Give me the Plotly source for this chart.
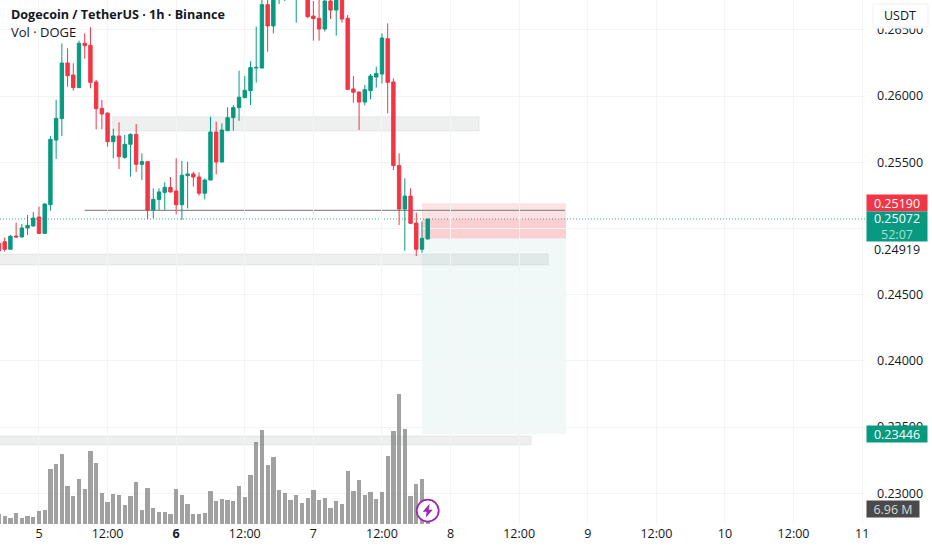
from plotly import graph_objects as go

hours = list(range(-7, 69))

opens = [
    0.24888, 0.24900, 0.24843, 0.24943, 0.24936, 0.25004, 0.25019, 0.25087, 0.24963, 0.25180,
    0.25668, 0.25830, 0.26250, 0.26159, 0.26064, 0.26399, 0.26384, 0.26107, 0.25908, 0.25872,
    0.25656, 0.25699, 0.25537, 0.25636, 0.25711, 0.25485, 0.25505, 0.25140, 0.25220, 0.25273,
    0.25311, 0.25283, 0.25180, 0.25399, 0.25412, 0.25389, 0.25266, 0.25366, 0.25729, 0.25502,
    0.25739, 0.25837, 0.25913, 0.25988, 0.26041, 0.26212, 0.26212, 0.26691, 0.26530, 0.26802,
    0.26764, 0.26852, 0.26739, 0.26827, 0.26802, 0.26605, 0.26588, 0.26507, 0.26718, 0.26650,
    0.26764, 0.26588, 0.26054, 0.26031, 0.25955, 0.26041, 0.26144, 0.26167, 0.26434, 0.26107,
    0.25475, 0.25147, 0.25245, 0.25041, 0.24843, 0.24921,
]
highs = [
    0.24926, 0.24933, 0.24951, 0.25044, 0.25034, 0.25102, 0.25125, 0.25165, 0.25190, 0.25699,
    0.25971, 0.26399, 0.26361, 0.26248, 0.26419, 0.26474, 0.26520, 0.26122, 0.25971, 0.25875,
    0.25754, 0.25802, 0.25706, 0.25719, 0.25789, 0.25568, 0.25507, 0.25303, 0.25303, 0.25349,
    0.25389, 0.25530, 0.25510, 0.25505, 0.25429, 0.25424, 0.25379, 0.25845, 0.25807, 0.25794,
    0.25915, 0.25933, 0.26192, 0.26152, 0.26263, 0.26525, 0.26739, 0.26751, 0.26902, 0.26953,
    0.26927, 0.26902, 0.26877, 0.26877, 0.26852, 0.26718, 0.26776, 0.26751, 0.26751, 0.26802,
    0.26802, 0.26613, 0.26152, 0.26034, 0.26084, 0.26167, 0.26222, 0.26474, 0.26550, 0.26134,
    0.25568, 0.25379, 0.25303, 0.25120, 0.25052, 0.25072,
]
lows = [
    0.24812, 0.24825, 0.24843, 0.24933, 0.24933, 0.24951, 0.25014, 0.24958, 0.24961, 0.25135,
    0.25525, 0.25699, 0.26071, 0.26041, 0.26061, 0.26283, 0.26059, 0.25749, 0.25749, 0.25618,
    0.25530, 0.25449, 0.25527, 0.25391, 0.25427, 0.25366, 0.25072, 0.25077, 0.25140, 0.25140,
    0.25271, 0.25107, 0.25064, 0.25152, 0.25316, 0.25248, 0.25220, 0.25364, 0.25409, 0.25502,
    0.25739, 0.25739, 0.25814, 0.25988, 0.25933, 0.26102, 0.26210, 0.26336, 0.26474, 0.26696,
    0.26718, 0.26751, 0.26555, 0.26746, 0.26588, 0.26419, 0.26419, 0.26487, 0.26582, 0.26457,
    0.26555, 0.26046, 0.25950, 0.25744, 0.25930, 0.25976, 0.26064, 0.26096, 0.25870, 0.25442,
    0.25026, 0.24832, 0.25034, 0.24792, 0.24817, 0.24918,
]
closes = [
    0.24832, 0.24843, 0.24941, 0.24936, 0.25004, 0.25024, 0.25079, 0.24963, 0.25185, 0.25673,
    0.25832, 0.26250, 0.26154, 0.26064, 0.26399, 0.26381, 0.26104, 0.25905, 0.25865, 0.25656,
    0.25699, 0.25543, 0.25636, 0.25711, 0.25485, 0.25505, 0.25140, 0.25220, 0.25276, 0.25311,
    0.25276, 0.25180, 0.25402, 0.25412, 0.25389, 0.25266, 0.25366, 0.25729, 0.25502, 0.25744,
    0.25837, 0.25913, 0.25991, 0.26044, 0.26215, 0.26217, 0.26691, 0.26530, 0.26827, 0.26877,
    0.26852, 0.26776, 0.26827, 0.26764, 0.26600, 0.26585, 0.26507, 0.26718, 0.26650, 0.26764,
    0.26582, 0.26051, 0.26029, 0.25955, 0.26049, 0.26152, 0.26170, 0.26439, 0.26104, 0.25475,
    0.25147, 0.25245, 0.25039, 0.24843, 0.24926, 0.25072,
]
volumes = [
    9.2, 7.3, 5.5, 9.8, 5.5, 7.6, 6.4, 11.9, 13.1, 50.6,
    54.6, 64.4, 35.1, 25.6, 40.9, 32.0, 67.1, 55.5, 28.4, 20.1,
    27.8, 26.8, 17.4, 25.6, 38.7, 12.5, 33.2, 14.6, 11.3, 11.3,
    8.8, 32.0, 26.2, 18.6, 9.5, 9.5, 10.4, 30.5, 20.7, 22.9,
    22.3, 20.7, 35.1, 25.0, 45.1, 75.0, 86.0, 54.3, 61.6, 31.1,
    28.4, 22.3, 26.2, 19.5, 23.5, 31.1, 22.3, 24.1, 14.6, 21.4,
    18.0, 48.5, 30.5, 40.3, 26.8, 29.0, 22.9, 29.0, 62.5, 85.4,
    119.0, 86.9, 25.6, 36.6, 41.5, 6.96,
]

x_tick_vals = [0, 12, 24, 36, 48, 60, 72, 84, 96, 108, 120, 132, 144]
x_tick_text = ["5", "12:00", "<b>6</b>", "12:00", "7", "12:00", "8", "12:00", "9", "12:00", "10", "12:00", "11"]
price_ticks = [0.23, 0.235, 0.24, 0.245, 0.25, 0.255, 0.26, 0.265]

GREEN = "#089981"
RED = "#f23645"
FONT = "Open Sans"

fig = go.Figure()

fig.add_trace(
    go.Bar(
        x=hours,
        y=volumes,
        yaxis="y2",
        width=0.75,
        marker=dict(color="rgba(125,125,125,0.72)", line_width=0),
        showlegend=False,
    )
)
fig.add_trace(
    go.Candlestick(
        x=hours,
        open=opens,
        high=highs,
        low=lows,
        close=closes,
        increasing=dict(line=dict(color=GREEN, width=1), fillcolor=GREEN),
        decreasing=dict(line=dict(color=RED, width=1), fillcolor=RED),
        showlegend=False,
    )
)


def band(x0, x1, y0, y1, fill, line="rgba(0,0,0,0)"):
    fig.add_shape(
        type="rect", x0=x0, x1=x1, y0=y0, y1=y1, xref="x", yref="y",
        fillcolor=fill, line=dict(color=line, width=1), layer="below",
    )


# zones drawn on the chart
band(12.9, 77, 0.25736, 0.25844, "rgba(120,130,130,0.13)", "rgba(120,130,130,0.12)")
band(-8, 89.1, 0.24724, 0.24807, "rgba(120,130,130,0.13)", "rgba(120,130,130,0.12)")
band(-8, 86.1, 0.23365, 0.23433, "rgba(120,130,130,0.13)", "rgba(120,130,130,0.12)")

# short position tool
band(67, 92.2, 0.24925, 0.2519, "rgba(242,54,69,0.15)")
band(67, 92.2, 0.24925, 0.25072, "rgba(242,54,69,0.10)")
band(67, 92.2, 0.23446, 0.24925, "rgba(8,153,129,0.06)")

fig.add_shape(type="line", x0=8, x1=92, y0=0.25137, y1=0.25137, xref="x", yref="y",
              line=dict(color="#8f8f8f", width=1.2), layer="below")
fig.add_shape(type="line", x0=0, x1=1, y0=0.25072, y1=0.25072, xref="paper", yref="y",
              line=dict(color=GREEN, width=0.8, dash="1px,2px"), layer="below")

# USDT box hides the top tick label
fig.add_shape(type="rect", x0=866 / 865, x1=932 / 865, y0=1 - 28.5 / 524, y1=1, xref="paper", yref="paper",
              fillcolor="white", line_width=0, layer="above")
fig.add_shape(type="rect", x0=873 / 865, x1=928 / 865, y0=1 - 4 / 524, y1=1 - 27 / 524, xref="paper", yref="paper",
              fillcolor="white", line=dict(color="#f0f1f3", width=1), layer="above")

# lightning badge on the last volume bar
fig.add_shape(type="circle", xsizemode="pixel", ysizemode="pixel", xanchor=68, yanchor=0.22869,
              x0=-11, x1=11, y0=-11, y1=11, xref="x", yref="y",
              fillcolor="white", line=dict(color="#9c27b0", width=1.8), layer="above")
fig.add_shape(type="path", xsizemode="pixel", ysizemode="pixel", xanchor=68, yanchor=0.22869,
              path="M 2 7 L -5 -1 L -1 -1 L -2 -7 L 5 1 L 1 1 Z", xref="x", yref="y",
              fillcolor="#9c27b0", line_width=0, layer="above")


def price_label(text, y, bg, fg="white", center=897, w=60, h=16, size=12.5):
    fig.add_annotation(
        x=center / 865, y=y, xref="paper", yref="y", xanchor="center", yanchor="middle",
        text=text, showarrow=False, bgcolor=bg, width=w, height=h, borderpad=0, align="center",
        font=dict(family=FONT, size=size, color=fg),
    )


price_label("0.25190", 0.2519, RED)
price_label("0.25072<br><span style='color:#a9e0d5'>52:07</span>", 0.25015, GREEN, h=29)
price_label("0.24919", 0.24849, "rgba(0,0,0,0)", fg="#131722")
price_label("0.23446", 0.23446, GREEN)
price_label("6.96 M", 0.22882, "#4a4a4a", fg="#d8d8d8", center=893, w=52)
fig.add_annotation(x=900 / 865, y=1 - 15.5 / 524, xref="paper", yref="paper", xanchor="center", yanchor="middle",
                   text="USDT", showarrow=False, font=dict(family=FONT, size=12.5, color="#131722"))

fig.add_annotation(x=9 / 865, y=1 - 15 / 524, xref="paper", yref="paper", xanchor="left", yanchor="middle", showarrow=False,
                   text="<b>Dogecoin / TetherUS · 1h · Binance</b>",
                   font=dict(family=FONT, size=12.6, color="#131722"))
fig.add_annotation(x=9 / 865, y=1 - 32 / 524, xref="paper", yref="paper", xanchor="left", yanchor="middle", showarrow=False,
                   text="Vol · DOGE", font=dict(family=FONT, size=13, color="#131722"))

fig.update_layout(
    width=932,
    height=550,
    margin=dict(l=0, r=67, t=0, b=26),
    paper_bgcolor="white",
    plot_bgcolor="white",
    barmode="overlay",
    bargap=0,
    boxgap=0.15,
    showlegend=False,
    font=dict(family=FONT, size=12.5, color="#131722"),
    xaxis=dict(
        range=[-6.82, 144.5],
        tickmode="array",
        tickvals=x_tick_vals,
        ticktext=x_tick_text,
        showgrid=True,
        gridcolor="#f3f4f6",
        gridwidth=1,
        zeroline=False,
        showline=False,
        ticks="",
        rangeslider=dict(visible=False),
    ),
    yaxis=dict(
        range=[0.22768, 0.26726],
        side="right",
        tickmode="array",
        tickvals=price_ticks,
        ticktext=[f"{p:.5f}" for p in price_ticks],
        showgrid=True,
        gridcolor="#f3f4f6",
        gridwidth=1,
        zeroline=False,
        showline=False,
        ticks="",
        ticklabelstandoff=11,
    ),
    yaxis2=dict(
        range=[0, 480],
        overlaying="y",
        visible=False,
        showgrid=False,
    ),
)

fig.write_html("out.html", config=dict(displayModeBar=False), post_script="document.body.style.margin='0'")
